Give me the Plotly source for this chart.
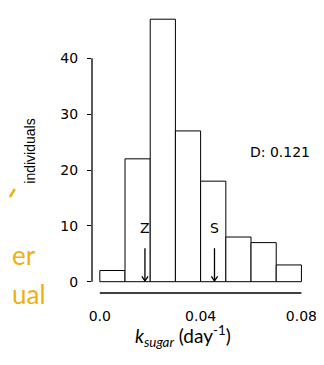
import plotly.graph_objects as go

# Data
bin_left = [0.00, 0.01, 0.02, 0.03, 0.04, 0.05, 0.06, 0.07]
counts = [2, 22, 47, 27, 18, 8, 7, 3]
bin_width = 0.01
y_ticks = [0, 10, 20, 30, 40]
x_ticks = [0.0, 0.04, 0.08]
x_tick_labels = ["0.0", "0.04", "0.08"]
marker_names = ["Z", "S"]
marker_x = [0.0179, 0.0455]
d_label = "D: 0.121"

# page body has an 8px margin: the figure is laid out 8px smaller/shifted
OFF = 8
W, H = 324 - OFF, 365 - OFF
L, R, T, B = 92 - OFF, 12, 15 - OFF, 72
px_per_x = 2578.75
px_per_y = 5.585
plot_w = W - L - R
plot_h = H - T - B
x0 = -(100 - 92) / px_per_x
x1 = x0 + plot_w / px_per_x
y0 = -(293 - 281.7) / px_per_y
y1 = y0 + plot_h / px_per_y


def px(ref_x):
    return (ref_x - 92) / plot_w


def py(ref_y):
    return (293 - ref_y) / plot_h


centers = [b + bin_width / 2 for b in bin_left]

fig = go.Figure()
fig.add_trace(go.Bar(
    x=centers, y=counts, width=[bin_width] * len(counts),
    marker=dict(color="white", line=dict(color="black", width=1)),
    hoverinfo="skip", showlegend=False,
))

fig.update_layout(
    width=W, height=H,
    margin=dict(l=L, r=R, t=T, b=B),
    plot_bgcolor="white", paper_bgcolor="white",
    font=dict(family="DejaVu Sans", color="black", size=14),
    showlegend=False,
    xaxis=dict(range=[x0, x1], tickvals=x_ticks, ticktext=x_tick_labels,
               ticks="", showgrid=False, zeroline=False, showline=False,
               tickfont=dict(size=14, family="DejaVu Sans"), ticklabelstandoff=13),
    yaxis=dict(range=[y0, y1], tickvals=y_ticks, ticks="outside", ticklen=4,
               tickcolor="black", tickwidth=1, showgrid=False, zeroline=False,
               showline=False, tickfont=dict(size=14, family="DejaVu Sans"),
               ticklabelstandoff=6),
)

# R-style axis lines
fig.add_shape(type="line", xref="paper", yref="y", x0=0, x1=0,
              y0=y_ticks[0], y1=y_ticks[-1], line=dict(color="black", width=1.3))
fig.add_shape(type="line", xref="x", yref="paper", x0=x_ticks[0], x1=x_ticks[-1],
              y0=0, y1=0, line=dict(color="black", width=1.5))

# Z / S markers with arrows
dx = 3.2 / px_per_x
dy = 4.5 / px_per_y
tip = 0.15
tail = 6.0
for name, xv in zip(marker_names, marker_x):
    fig.add_annotation(x=xv, y=9.6, text=name, showarrow=False,
                       font=dict(size=14, family="DejaVu Sans"))
    fig.add_shape(type="line", xref="x", yref="y", x0=xv, x1=xv, y0=tail, y1=tip,
                  line=dict(color="black", width=1.3))
    fig.add_shape(type="path", xref="x", yref="y",
                  path=f"M {xv - dx},{tip + dy} L {xv},{tip} L {xv + dx},{tip + dy}",
                  line=dict(color="black", width=1.3))

fig.add_annotation(x=0.0714, y=23.3, text=d_label, showarrow=False,
                   font=dict(size=14, family="DejaVu Sans"))

# axis titles
fig.add_annotation(xref="paper", yref="paper", x=px(185), y=py(352),
                   text="<i>k</i><sub><i>sugar</i></sub> (day<sup>-1</sup>)",
                   showarrow=False, font=dict(size=19, family="Lato"))
fig.add_annotation(xref="paper", yref="paper", x=px(18), y=py(151),
                   text="individuals", textangle=-90,
                   showarrow=False, font=dict(size=14, family="Liberation Sans"))

# cut-off slide text on the left
fig.add_annotation(xref="paper", yref="paper", x=px(8), xanchor="left",
                   y=py(273), text="er", showarrow=False,
                   font=dict(size=26, family="Lato", color="#EDB10F"))
fig.add_annotation(xref="paper", yref="paper", x=px(8), xanchor="left",
                   y=py(312), text="ual", showarrow=False,
                   font=dict(size=26, family="Lato", color="#EDB10F"))
fig.add_shape(type="line", xref="paper", yref="paper",
              x0=px(8), y0=py(197), x1=px(13), y1=py(189),
              line=dict(color="#EDB10F", width=2.5))

fig.write_html("out.html")
